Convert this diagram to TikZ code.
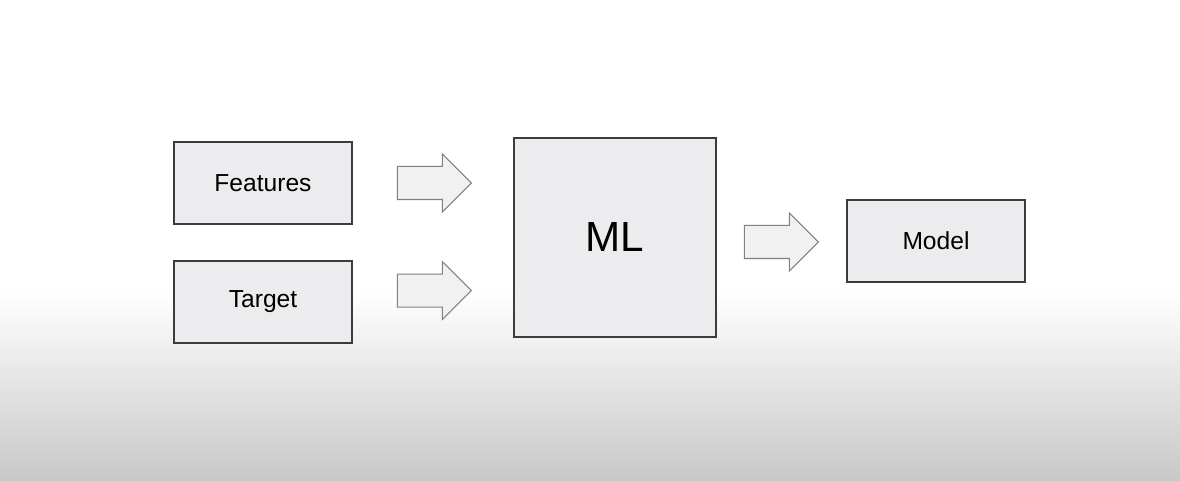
\documentclass[tikz,border=0pt]{standalone}
\usepackage{fontspec}
\setmainfont{Liberation Sans}
\usepackage{xcolor}
\definecolor{boxfill}{RGB}{236,236,238}
\definecolor{boxline}{RGB}{60,60,60}
\definecolor{arrowfill}{RGB}{241,241,242}
\definecolor{arrowline}{RGB}{128,128,128}
\definecolor{floor}{RGB}{200,200,200}
\usetikzlibrary{shapes.arrows,positioning}

\begin{document}
\begin{tikzpicture}[
  box/.style={draw=boxline,fill=boxfill,line width=0.9pt,minimum width=3.56cm,minimum height=1.64cm,font=\fontsize{14}{17}\selectfont,align=center,text=black},
  bigarrow/.style={single arrow,draw=arrowline,fill=arrowfill,line width=0.6pt,inner xsep=0pt,inner ysep=0.32cm,minimum height=1.48cm,single arrow head extend=0.25cm,single arrow head indent=0pt}
]
  % background
  \fill[white] (0,0) rectangle (23.6,9.62);
  \shade[top color=white,bottom color=floor] (0,0) rectangle (23.6,3.8);
  \useasboundingbox (0,0) rectangle (23.6,9.62);
  % boxes
  \node[box] (feat) at (5.26,5.96) {Features};
  \node[box,below=0.71cm of feat] (tgt) {Target};
  \node[box,minimum width=4.04cm,minimum height=3.98cm,font=\fontsize{24}{28}\selectfont] (ml) at (12.30,4.87) {ML};
  \node[box] (model) at (18.72,4.80) {Model};
  % block arrows
  \node[bigarrow,right=0.88cm of feat] (a1) {};
  \node[bigarrow,right=0.88cm of tgt,yshift=0.23cm] (a2) {};
  \node[bigarrow,right=0.54cm of ml,yshift=-0.09cm] (a3) {};
\end{tikzpicture}
\end{document}
